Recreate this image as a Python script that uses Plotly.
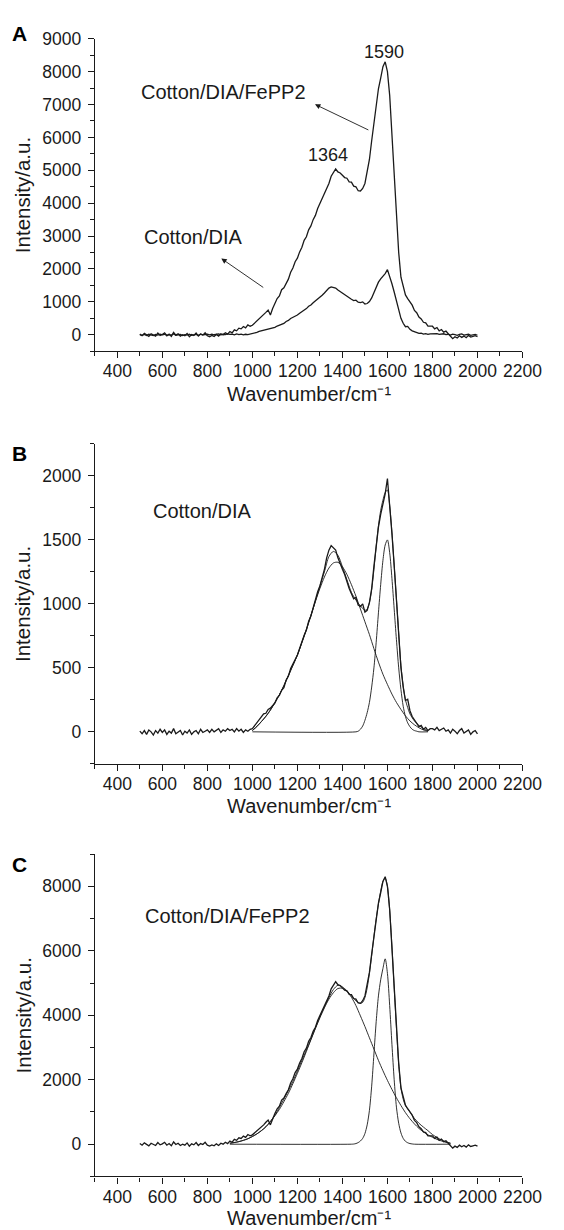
import plotly.graph_objects as go

# ---------------- data ----------------
WN = list(range(500, 2001, 10))  # wavenumber grid, cm-1

DIA_RAW = [
    5, -15, 10, -20, 15, 0, -25, 10, -10, 20,
    -5, 15, -20, 5, -10, 25, -15, 0, 10, -25,
    5, -10, 15, -20, 0, 10, -15, 20, -5, 5,
    15, -5, 20, 0, 10, 25, -5, 15, 5, 25,
    10, 20, 0, 25, 5, 20, -5, 15, 5, 20,
    25, 50, 70, 100, 115, 140, 145, 175, 185, 205,
    225, 265, 285, 325, 345, 405, 435, 495, 525, 565,
    600, 655, 695, 755, 795, 865, 905, 975, 1025, 1095,
    1140, 1200, 1270, 1360, 1420, 1455, 1440, 1420, 1360, 1310,
    1270, 1230, 1165, 1120, 1080, 1040, 1050, 990, 980, 1000,
    935, 950, 1010, 1120, 1295, 1450, 1600, 1700, 1780, 1860,
    1980, 1780, 1550, 1300, 1040, 760, 500, 350, 245, 255,
    165, 120, 90, 60, 40, 50, 20, 35, 10, 25,
    25, 15, 35, 10, 20, 30, 5, 15, -10, 20,
    5, -15, 10, 25, -10, 5, 15, -20, 0, 10,
    -15,
]

FE_RAW = [
    20, -30, 40, -10, -50, 30, 0, -40, 50, -20,
    10, 60, -30, 20, -50, 70, -10, 30, -40, 0,
    -30, 40, -60, 10, -20, 50, -40, 20, -10, 60,
    -30, -60, -20, -50, 10, -40, 30, 0, 60, 20,
    100, 60, 150, 120, 200, 180, 250, 210, 300, 260,
    290, 350, 420, 480, 540, 600, 680, 750, 600, 800,
    950, 1100, 1180, 1370, 1430, 1570, 1690, 1900, 2030, 2220,
    2330, 2520, 2660, 2870, 2980, 3190, 3310, 3500, 3630, 3840,
    4000, 4170, 4310, 4490, 4600, 4820, 4930, 5040, 4950, 4920,
    4850, 4780, 4760, 4650, 4640, 4520, 4500, 4380, 4370, 4450,
    4600, 4950, 5330, 5900, 6450, 7000, 7480, 7800, 8150, 8300,
    8000, 7280, 6150, 4900, 3650, 2500, 1750, 1450, 1210, 1100,
    1000, 900, 740, 670, 540, 480, 380, 360, 260, 270,
    260, 180, 220, 120, 160, 80, 110, 30, -40, -120,
    -60, -100, -30, -80, -40, -90, -20, -70, -50, -30,
    -60,
]

# Panel B fitted components (Cotton/DIA)
B_BROAD_X = list(range(1000, 1781, 20))
B_BROAD = [10, 40, 80, 120, 170, 230, 290, 360, 440, 520,
           600, 700, 800, 910, 1020, 1120, 1210, 1280, 1320, 1325,
           1290, 1230, 1150, 1060, 960, 860, 760, 650, 545, 450,
           370, 295, 230, 175, 125, 85, 55, 32, 15, 5]

B_NARROW_X = [1000] + list(range(1460, 1741, 10)) + [1780]
B_NARROW = [0] + [0, 5, 20, 45, 90, 150, 230, 350, 500, 700,
                  930, 1150, 1340, 1460, 1500, 1400, 1200, 960, 720, 500,
                  330, 200, 120, 70, 40, 20, 10, 5, 0] + [0]

B_ENV_X = [1000, 1040, 1080, 1120, 1160, 1200, 1240, 1280,
           1300, 1320, 1340, 1360, 1380, 1400, 1420, 1440, 1460, 1480, 1500,
           1510, 1520, 1530, 1540, 1550, 1560, 1570, 1580, 1590, 1600,
           1610, 1620, 1630, 1640, 1650, 1660, 1670, 1680, 1690, 1700,
           1720, 1740, 1760, 1780]
B_ENV = [10, 80, 170, 290, 440, 600, 800, 1020,
         1140, 1250, 1370, 1410, 1380, 1290, 1190, 1090, 1030, 985, 950,
         960, 1010, 1110, 1270, 1450, 1610, 1730, 1810, 1870, 1890,
         1770, 1560, 1300, 1040, 770, 520, 360, 250, 190, 140,
         85, 50, 25, 8]

# Panel C fitted components (Cotton/DIA/FePP2)
C_BROAD_X = list(range(900, 1881, 20))
C_BROAD = [30, 50, 80, 120, 170, 240, 320, 420, 540, 700,
           880, 1080, 1320, 1580, 1880, 2200, 2530, 2880, 3240, 3590,
           3920, 4230, 4500, 4700, 4830, 4840, 4740, 4560, 4300, 3980,
           3650, 3300, 2950, 2600, 2280, 1980, 1700, 1440, 1200, 980,
           790, 630, 490, 380, 290, 215, 150, 100, 60, 30]

C_NARROW_X = [900] + list(range(1440, 1721, 10)) + [1880]
C_NARROW = [0] + [0, 5, 20, 50, 100, 180, 330, 600, 1050, 1800,
                  2800, 3800, 4600, 5100, 5450, 5750, 5300, 4300, 3100, 2000,
                  1150, 650, 350, 180, 90, 45, 20, 8, 0] + [0]

C_ENV_X = [900, 940, 980, 1020, 1060, 1100, 1140, 1180, 1220, 1260, 1300, 1340,
           1360, 1380, 1400, 1420, 1440, 1460, 1480,
           1490, 1500, 1510, 1520, 1530, 1540, 1550, 1560, 1570, 1580,
           1590, 1600, 1610, 1620, 1630, 1640, 1650, 1660, 1670, 1680,
           1700, 1720, 1740, 1760, 1780, 1800, 1820, 1840, 1860, 1880]
C_ENV = [30, 80, 170, 320, 540, 900, 1400, 1950, 2600, 3250, 3950, 4550,
         4800, 4930, 4880, 4760, 4600, 4450, 4370,
         4400, 4550, 4850, 5300, 5850, 6450, 7000, 7450, 7850, 8150,
         8250, 8000, 7250, 6150, 4850, 3600, 2500, 1750, 1400, 1200,
         1000, 800, 650, 530, 420, 300, 210, 130, 70, 30]

X_TICKS = [400, 600, 800, 1000, 1200, 1400, 1600, 1800, 2000, 2200]
YA_TICKS = [0, 1000, 2000, 3000, 4000, 5000, 6000, 7000, 8000, 9000]
YB_TICKS = [0, 500, 1000, 1500, 2000]
YC_TICKS = [0, 2000, 4000, 6000, 8000]

# ---------------- figure ----------------
FONT = "Liberation Sans, Arial, Helvetica, sans-serif"
INK = "#1a1a1a"
W, H = 564, 1230

fig = go.Figure()

def raw(x, y, xa, ya):
    fig.add_trace(go.Scatter(x=x, y=y, mode="lines", xaxis=xa, yaxis=ya,
                             line=dict(color=INK, width=1.3), showlegend=False,
                             hoverinfo="skip"))

def fit(x, y, xa, ya):
    fig.add_trace(go.Scatter(x=x, y=y, mode="lines", xaxis=xa, yaxis=ya,
                             line=dict(color=INK, width=0.9, shape="spline",
                                       smoothing=0.8),
                             showlegend=False, hoverinfo="skip"))

# Panel A
raw(WN, FE_RAW, "x", "y")
raw(WN, DIA_RAW, "x", "y")
# Panel B
raw(WN, DIA_RAW, "x2", "y2")
fit(B_BROAD_X, B_BROAD, "x2", "y2")
fit(B_NARROW_X, B_NARROW, "x2", "y2")
fit(B_ENV_X, B_ENV, "x2", "y2")
# Panel C
raw(WN, FE_RAW, "x3", "y3")
fit(C_BROAD_X, C_BROAD, "x3", "y3")
fit(C_NARROW_X, C_NARROW, "x3", "y3")
fit(C_ENV_X, C_ENV, "x3", "y3")

XDOM = [98.3 / W, 541.7 / W]
DOMS = {
    "A": [1 - 344 / H, 1 - 29 / H],
    "B": [1 - 760 / H, 1 - 437.5 / H],
    "C": [1 - 1176 / H, 1 - 851 / H],
}
tickfont = dict(family=FONT, size=17.5, color=INK)

def xaxis(anchor):
    return dict(domain=XDOM, anchor=anchor, range=[300, 2200],
                tickmode="array", tickvals=X_TICKS, ticktext=[str(v) for v in X_TICKS],
                showline=True, linecolor=INK, linewidth=1.2, ticks="outside",
                ticklen=6, tickwidth=1.2, tickcolor=INK, showgrid=False,
                zeroline=False, tickfont=tickfont, ticklabelstandoff=-2,
                minor=dict(ticks="outside", ticklen=4, tickwidth=1.2,
                           tickcolor=INK, dtick=100, tick0=0, showgrid=False))

def yaxis(anchor, dom, rng, vals, mdt):
    return dict(domain=dom, anchor=anchor, range=rng,
                tickmode="array", tickvals=vals, ticktext=[str(v) for v in vals],
                showline=True, linecolor=INK, linewidth=1.2, ticks="outside",
                ticklen=6, tickwidth=1.2, tickcolor=INK, showgrid=False,
                zeroline=False, tickfont=tickfont, ticklabelstandoff=3,
                minor=dict(ticks="outside", ticklen=4, tickwidth=1.2,
                           tickcolor=INK, dtick=mdt, tick0=0, showgrid=False))

fig.update_layout(
    width=W, height=H,
    margin=dict(l=0, r=0, t=0, b=0),
    paper_bgcolor="white", plot_bgcolor="white",
    xaxis=xaxis("y"), yaxis=yaxis("x", DOMS["A"], [-500, 9000], YA_TICKS, 500),
    xaxis2=xaxis("y2"), yaxis2=yaxis("x2", DOMS["B"], [-250, 2250], YB_TICKS, 250),
    xaxis3=xaxis("y3"), yaxis3=yaxis("x3", DOMS["C"], [-1000, 9000], YC_TICKS, 1000),
)

ann = []
txt = dict(family=FONT, size=20, color=INK)
# panel letters
for letter, ypx in (("A", 24), ("B", 446.7), ("C", 861)):
    ann.append(dict(text="<b>%s</b>" % letter, x=20 / W, y=1 - ypx / H,
                    xref="paper", yref="paper", showarrow=False,
                    xanchor="center", yanchor="middle",
                    font=dict(family=FONT, size=21, color="black")))
# axis titles
XTITLE = "Wavenumber/cm\u207b\u00b9"
for key, axis_px in (("A", 344), ("B", 760), ("C", 1176)):
    d = DOMS[key]
    ann.append(dict(text="Intensity/a.u.", x=24 / W, y=(d[0] + d[1]) / 2,
                    xref="paper", yref="paper", showarrow=False, textangle=-90,
                    xanchor="center", yanchor="middle",
                    font=dict(family=FONT, size=20.5, color=INK)))
    if key == "C":
        ypos, yanc = 0.0, "bottom"
    else:
        ypos, yanc = 1 - (axis_px + 43) / H, "middle"
    ann.append(dict(text=XTITLE, x=(XDOM[0] + XDOM[1]) / 2,
                    y=ypos, xref="paper", yref="paper", borderpad=0,
                    showarrow=False, xanchor="center", yanchor=yanc,
                    font=dict(family=FONT, size=20, color=INK)))

# panel A labels
ann += [
    dict(text="1590", x=1583, y=8584, xref="x", yref="y", showarrow=False,
         font=dict(family=FONT, size=18, color=INK)),
    dict(text="1364", x=1338, y=5452, xref="x", yref="y", showarrow=False,
         font=dict(family=FONT, size=18, color=INK)),
    dict(text="Cotton/DIA/FePP2", x=870, y=7380, xref="x", yref="y",
         showarrow=False, font=txt),
    dict(text="Cotton/DIA", x=734, y=2973, xref="x", yref="y",
         showarrow=False, font=txt),
    dict(text="", x=1278, y=7007, ax=1522, ay=6205, xref="x", yref="y",
         axref="x", ayref="y", showarrow=True, arrowhead=2, arrowsize=1.2,
         arrowwidth=0.9, arrowcolor=INK),
    dict(text="", x=862, y=2319, ax=1055, ay=1407, xref="x", yref="y",
         axref="x", ayref="y", showarrow=True, arrowhead=2, arrowsize=1.2,
         arrowwidth=0.9, arrowcolor=INK),
    dict(text="Cotton/DIA", x=778, y=1726, xref="x2", yref="y2",
         showarrow=False, font=txt),
    dict(text="Cotton/DIA/FePP2", x=888, y=7093, xref="x3", yref="y3",
         showarrow=False, font=txt),
]
fig.update_layout(annotations=ann)

fig.write_html(
    "out.html",
    config={"responsive": False, "displayModeBar": False},
    post_script="document.body.style.margin='0';document.body.style.overflow='hidden';",
)
